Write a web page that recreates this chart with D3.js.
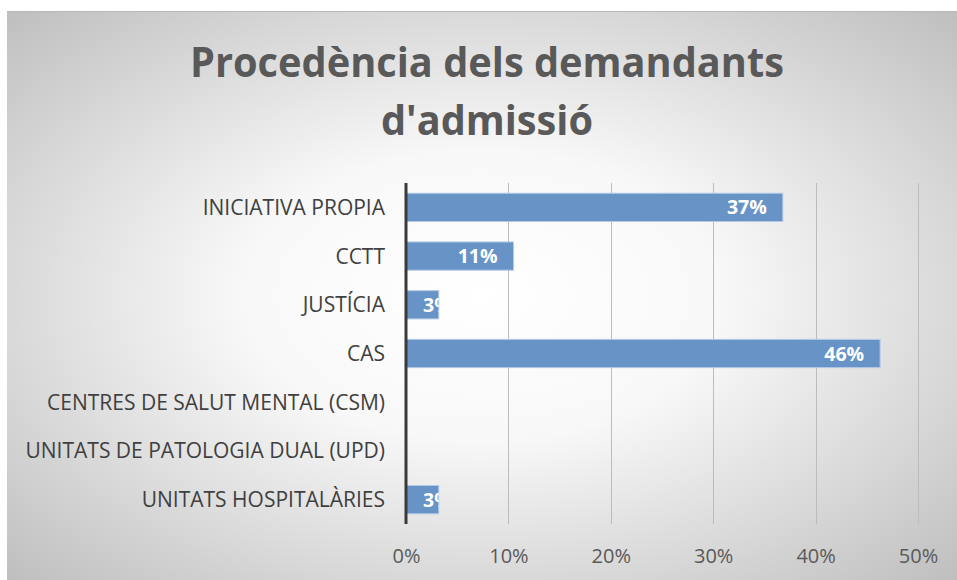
<!DOCTYPE html>
<html>
<head>
<meta charset="utf-8">
<script src="https://cdn.jsdelivr.net/npm/d3@7"></script>
<style>
  html, body { margin: 0; padding: 0; background: #fff; }
  svg { display: block; }
</style>
</head>
<body>
<div id="viz"></div>
<script>
// chart data
const categories = [
  'INICIATIVA PROPIA',
  'CCTT',
  'JUSTÍCIA',
  'CAS',
  'CENTRES DE SALUT MENTAL (CSM)',
  'UNITATS DE PATOLOGIA DUAL (UPD)',
  'UNITATS HOSPITALÀRIES'
];
const shares = [0.368, 0.105, 0.032, 0.463, null, null, 0.032];
const tickValues = [0, 0.1, 0.2, 0.3, 0.4, 0.5];
const titleLines = ['Procedència dels demandants', "d'admissió"];

const width = 957, height = 580;
const margin = {top: 183, right: 39, bottom: 56, left: 406};

const svg = d3.select('#viz').append('svg')
  .attr('width', width)
  .attr('height', height);

const defs = svg.append('defs');
const grad = defs.append('radialGradient')
  .attr('id', 'bg')
  .attr('cx', '50%').attr('cy', '50%').attr('r', '72%');
grad.append('stop').attr('offset', '0%').attr('stop-color', '#ffffff');
grad.append('stop').attr('offset', '35%').attr('stop-color', '#f8f8f8');
grad.append('stop').attr('offset', '100%').attr('stop-color', '#bdbdbd');

// chart area background
svg.append('rect')
  .attr('x', 7).attr('y', 11)
  .attr('width', width - 7).attr('height', height - 11)
  .attr('fill', 'url(#bg)');
svg.append('line')
  .attr('x1', 7).attr('x2', width)
  .attr('y1', 11.5).attr('y2', 11.5)
  .attr('stroke', '#b8b8b8');

// title
svg.append('g')
  .selectAll('text')
  .data(titleLines)
  .join('text')
  .attr('x', 487)
  .attr('y', (d, i) => 77 + i * 58)
  .attr('text-anchor', 'middle')
  .style('font-family', '"Open Sans", sans-serif')
  .style('font-weight', 700)
  .style('font-size', '42px')
  .attr('fill', '#595959')
  .text(d => d)
  .each(function(d, i) {
    // calibri is narrower; squeeze to the reference width
    const target = i === 0 ? 594 : 212;
    d3.select(this).attr('textLength', target).attr('lengthAdjust', 'spacingAndGlyphs');
  });

const x = d3.scaleLinear()
  .domain([0, 0.5])
  .range([margin.left, width - margin.right]);

const y = d3.scaleBand()
  .domain(categories)
  .range([margin.top, height - margin.bottom])
  .paddingInner(0.42)
  .paddingOuter(0.21);

const plotTop = margin.top, plotBottom = height - margin.bottom;

// gridlines
svg.append('g')
  .selectAll('line')
  .data(tickValues.slice(1))
  .join('line')
  .attr('x1', d => Math.round(x(d)) + 0.5)
  .attr('x2', d => Math.round(x(d)) + 0.5)
  .attr('y1', plotTop)
  .attr('y2', plotBottom)
  .attr('stroke', '#bcbcbc')
  .attr('stroke-width', 1);

// x tick labels
const xAxis = d3.axisBottom(x)
  .tickValues(tickValues)
  .tickFormat(d3.format('.0%'))
  .tickSize(0)
  .tickPadding(0);
const xg = svg.append('g')
  .attr('transform', `translate(0, ${plotBottom + 32})`)
  .call(xAxis);
xg.select('.domain').remove();
xg.selectAll('text')
  .style('font-family', '"Open Sans", sans-serif')
  .style('font-size', '20px')
  .attr('fill', '#595959')
  .attr('dy', '0.36em');

// category labels
const yAxis = d3.axisLeft(y).tickSize(0).tickPadding(0);
const yg = svg.append('g')
  .attr('transform', `translate(${margin.left - 21}, 0)`)
  .call(yAxis);
yg.select('.domain').remove();
yg.selectAll('text')
  .style('font-family', '"Open Sans", sans-serif')
  .style('font-size', '21px')
  .attr('fill', '#404040')
  .attr('dy', '0.36em');

// bars
const rows = categories.map((c, i) => ({cat: c, v: shares[i]})).filter(d => d.v != null);

svg.append('g')
  .selectAll('rect')
  .data(rows)
  .join('rect')
  .attr('x', x(0))
  .attr('y', d => y(d.cat))
  .attr('width', d => x(d.v) - x(0))
  .attr('height', y.bandwidth())
  .attr('fill', '#6893c7')
  .attr('stroke', '#b3cbe7')
  .attr('stroke-width', 1);

// clip labels to each bar
rows.forEach((d, i) => {
  defs.append('clipPath').attr('id', 'clip' + i)
    .append('rect')
    .attr('x', x(0))
    .attr('y', y(d.cat))
    .attr('width', x(d.v) - x(0))
    .attr('height', y.bandwidth());
});

svg.append('g')
  .selectAll('text')
  .data(rows)
  .join('text')
  .attr('clip-path', (d, i) => `url(#clip${i})`)
  .attr('y', d => y(d.cat) + y.bandwidth() / 2)
  .attr('dy', '0.36em')
  .style('font-family', '"Open Sans", sans-serif')
  .style('font-weight', 700)
  .style('font-size', '19.5px')
  .attr('fill', '#ffffff')
  .text(d => d3.format('.0%')(d.v))
  .each(function(d) {
    const w = this.getComputedTextLength();
    const xr = Math.max(x(0) + 17, x(d.v) - 16 - w);
    d3.select(this).attr('x', xr);
  });

// vertical axis line
svg.append('line')
  .attr('x1', x(0)).attr('x2', x(0))
  .attr('y1', plotTop).attr('y2', plotBottom)
  .attr('stroke', '#3a3a3a')
  .attr('stroke-width', 3);
</script>
</body>
</html>
